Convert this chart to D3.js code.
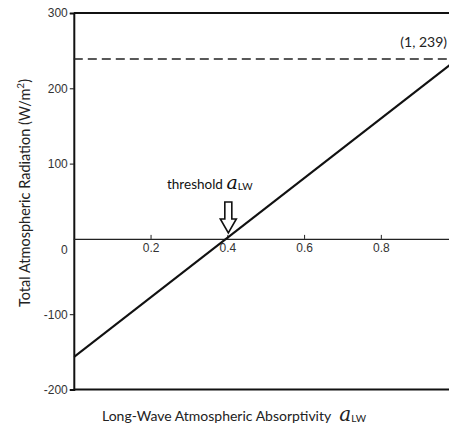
<!DOCTYPE html>
<html>
<head>
<meta charset="utf-8">
<script src="https://cdn.jsdelivr.net/npm/d3@7"></script>
<style>
  body { margin: 0; background: #fff; }
  svg { display: block; }
</style>
</head>
<body>
<script>
const width = 449;
const height = 429;

// data
const lineX = [0, 1];
const lineY = [-157, 239];
const dashedY = 239;
const yTicks = [-200, -100, 100, 200, 300];
const xTicks = [0.2, 0.4, 0.6, 0.8];
const thresholdX = 0.4;

const svg = d3.select("body")
  .append("svg")
  .attr("width", width)
  .attr("height", height);

const x = d3.scaleLinear().domain([0, 1]).range([73.8, 457.6]);
const y = d3.scaleLinear().domain([-200, 300]).range([389.5, 13]);

const plotLeft = x(0), plotRight = width;

svg.append("defs").append("clipPath").attr("id", "clip")
  .append("rect").attr("x", plotLeft).attr("y", 0).attr("width", plotRight - plotLeft).attr("height", height);

// y axis
const yAxis = svg.append("g")
  .attr("transform", `translate(${plotLeft},0)`)
  .call(d3.axisLeft(y).tickValues(yTicks).tickSize(4).tickPadding(2).tickFormat(d => String(d)));
yAxis.select(".domain").attr("stroke", "#111").attr("stroke-width", 2);
yAxis.selectAll(".tick line").attr("stroke", "#111");
yAxis.selectAll(".tick text")
  .attr("font-family", "Liberation Sans, Arial, sans-serif")
  .attr("font-size", 12)
  .attr("fill", "#333");

// origin label
svg.append("text")
  .attr("x", plotLeft - 6).attr("y", y(0) + 15)
  .attr("text-anchor", "end")
  .attr("font-family", "Liberation Sans, Arial, sans-serif")
  .attr("font-size", 12).attr("fill", "#333")
  .text("0");

// top and bottom frame lines
svg.selectAll(".hframe")
  .data([300, -200])
  .enter()
  .append("line")
  .attr("x1", plotLeft).attr("x2", plotRight)
  .attr("y1", d => y(d)).attr("y2", d => y(d))
  .attr("stroke", "#111").attr("stroke-width", 2);

// x axis at zero
const xAxis = svg.append("g")
  .attr("transform", `translate(0,${y(0)})`)
  .call(d3.axisBottom(x).tickValues(xTicks).tickSizeInner(-4).tickSizeOuter(0).tickPadding(5).tickFormat(d3.format(".1f")));
xAxis.select(".domain").attr("d", `M${plotLeft},0.5H${plotRight}`).attr("stroke", "#222").attr("stroke-width", 1.2);
xAxis.selectAll(".tick line").attr("stroke", "#222");
xAxis.selectAll(".tick text")
  .attr("font-family", "Liberation Sans, Arial, sans-serif")
  .attr("font-size", 12)
  .attr("fill", "#333");

// dashed line at 239
svg.append("line")
  .attr("x1", plotLeft).attr("x2", plotRight)
  .attr("y1", y(dashedY)).attr("y2", y(dashedY))
  .attr("stroke", "#222").attr("stroke-width", 1.6)
  .attr("stroke-dasharray", "9,5");

// main line
const pts = lineX.map((d, i) => [d, lineY[i]]);
svg.append("path")
  .datum(pts)
  .attr("clip-path", "url(#clip)")
  .attr("fill", "none")
  .attr("stroke", "#111")
  .attr("stroke-width", 2)
  .attr("d", d3.line().x(d => x(d[0])).y(d => y(d[1])));

const labelFont = "Lato, Open Sans, sans-serif";
const mathFont = "DejaVu Serif, Liberation Serif, serif";

// (1, 239) label
svg.append("text")
  .attr("x", 447).attr("y", y(dashedY) - 12)
  .attr("text-anchor", "end")
  .attr("font-family", labelFont).attr("font-size", 14).attr("fill", "#222")
  .text("(1, 239)");

// threshold label
const th = svg.append("text")
  .attr("x", 167).attr("y", 189)
  .attr("font-family", labelFont).attr("font-size", 13.5).attr("fill", "#111");
th.append("tspan").text("threshold ");
th.append("tspan").attr("font-family", mathFont).attr("font-style", "italic").attr("font-size", 19).text("a");
th.append("tspan").attr("font-size", 10).attr("dy", 1).text("LW");

// hollow arrow
const ax = x(thresholdX) + 1;
const arrowTop = 202, arrowNeck = 219, arrowTip = y(0) - 6;
svg.append("path")
  .attr("d", `M${ax - 3.5},${arrowTop}H${ax + 3.5}V${arrowNeck}H${ax + 8}L${ax},${arrowTip}L${ax - 8},${arrowNeck}H${ax - 3.5}Z`)
  .attr("fill", "#fff").attr("stroke", "#111").attr("stroke-width", 1.6);

// axis titles
svg.append("text")
  .attr("transform", `translate(30,${193}) rotate(-90)`)
  .attr("text-anchor", "middle")
  .attr("font-family", labelFont).attr("font-size", 14.5).attr("fill", "#222")
  .html("Total Atmospheric Radiation (W/m<tspan font-size='10' dy='-6'>2</tspan><tspan dy='6'>)</tspan>");

const xt = svg.append("text")
  .attr("x", 102).attr("y", 421)
  .attr("font-family", labelFont).attr("font-size", 14).attr("fill", "#222");
xt.append("tspan").text("Long-Wave Atmospheric Absorptivity");
xt.append("tspan").attr("dx", 8).attr("font-family", mathFont).attr("font-style", "italic").attr("font-size", 20).text("a");
xt.append("tspan").attr("font-size", 10).attr("dy", 1).text("LW");
</script>
</body>
</html>
